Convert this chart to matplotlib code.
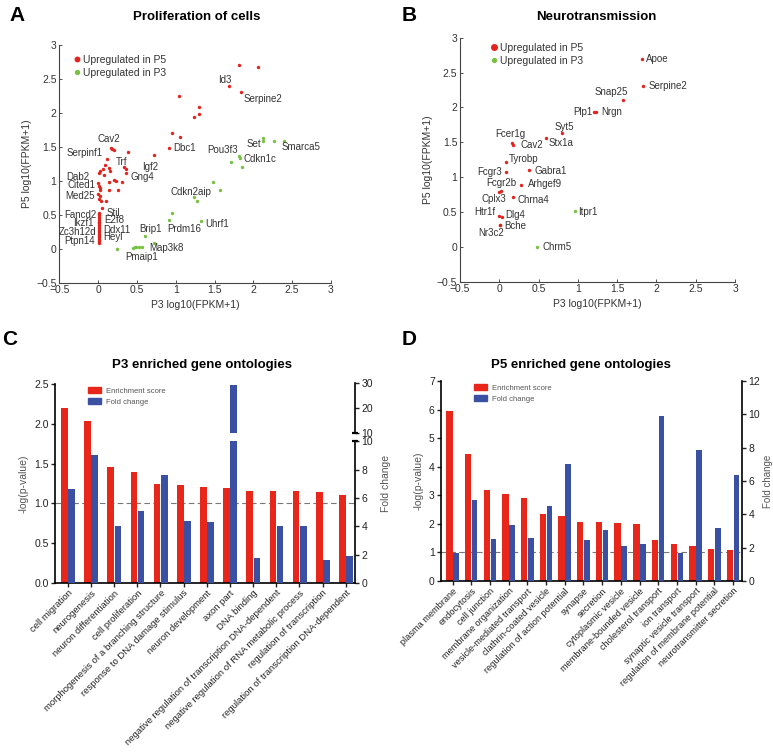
import numpy as np
import matplotlib.pyplot as plt
from matplotlib.lines import Line2D
from matplotlib.patches import Patch

plt.rcParams['font.family'] = ['Liberation Sans', 'DejaVu Sans']

RED = '#e3231c'
GREEN = '#78c143'
BAR_RED = '#e8261a'
BAR_BLUE = '#3a50a2'
TXT = '#333333'

# ---- panel A: proliferation of cells ----
a_red_genes = ['', '', 'Id3', 'Serpine2', '', '', '', '', '', '', 'Dbc1', '', '',
               'Cav2', '', '', 'Serpinf1', 'Trf', 'Igf2', 'Gng4', '', '', '', '',
               'Dab2', '', '', '', '', '', '', '', '', 'Cited1', '', '', '', 'Med25',
               '', '', '', '', '',
               'Stil', 'Fancd2', '', '', '', 'E2f8', '', '', 'Ikzf1', '', '', '',
               'Ddx11', '', 'Zc3h12d', '', '', '', 'Heyl', '', 'Ptpn14', '', '']
a_red_x = [1.81, 2.06, 1.68, 1.84, 1.04, 1.30, 1.30, 1.23, 0.95, 1.05, 0.91, 0.72, 0.38,
           0.16, 0.18, 0.21, 0.11, 0.34, 0.36, 0.36, 0.09, 0.14, 0.15, 0.06,
           0.01, 0.03, 0.07, 0.14, 0.20, 0.23, 0.31, 0.26, 0.14, 0.00, 0.01, 0.02, 0.02, 0.00,
           0.02, 0.01, 0.04, 0.10, 0.05,
           0.01, 0.01, 0.01, 0.01, 0.01, 0.01, 0.01, 0.01, 0.01, 0.01, 0.01, 0.01,
           0.01, 0.01, 0.01, 0.01, 0.01, 0.01, 0.01, 0.01, 0.01, 0.01, 0.01]
a_red_y = [2.70, 2.68, 2.40, 2.31, 2.25, 2.09, 1.99, 1.94, 1.70, 1.65, 1.49, 1.38, 1.42,
           1.49, 1.47, 1.45, 1.32, 1.20, 1.17, 1.12, 1.23, 1.19, 1.14, 1.17,
           1.12, 1.15, 1.08, 0.98, 1.01, 1.00, 0.98, 0.86, 0.87, 0.97, 0.93, 0.90, 0.86, 0.81,
           0.77, 0.73, 0.71, 0.71, 0.60,
           0.53, 0.51, 0.49, 0.47, 0.45, 0.42, 0.40, 0.39, 0.38, 0.35, 0.33, 0.31,
           0.28, 0.26, 0.24, 0.22, 0.20, 0.18, 0.17, 0.15, 0.12, 0.11, 0.09]

a_green_genes = ['', 'Set', '', 'Smarca5', 'Pou3f3', 'Cdkn1c', '', '', '', '', 'Cdkn2aip',
                 '', '', 'Prdm16', 'Uhrf1', 'Brip1', 'Map3k8', 'Pmaip1', '', '', '', '', '']
a_green_x = [2.13, 2.13, 2.26, 2.39, 1.82, 1.83, 1.71, 1.85, 1.48, 1.57, 1.23,
             1.28, 0.95, 0.91, 1.33, 0.60, 0.72, 0.49, 0.45, 0.47, 0.53, 0.56, 0.24]
a_green_y = [1.63, 1.58, 1.59, 1.58, 1.36, 1.34, 1.27, 1.20, 0.98, 0.87, 0.76,
             0.71, 0.52, 0.42, 0.41, 0.19, 0.09, 0.02, 0.01, 0.02, 0.03, 0.02, 0.00]

# label placement: gene -> (dx pt, dy pt, ha)
a_label_pos = {
    'Id3': (-2.6, 4.3, 'center'), 'Serpine2': (1.7, -5.0, 'left'), 'Dbc1': (3.1, -0.5, 'left'),
    'Cav2': (-1.0, 5.8, 'center'), 'Serpinf1': (-2.9, 4.1, 'right'), 'Trf': (-1.9, 3.8, 'center'),
    'Igf2': (11.3, 1.7, 'left'), 'Gng4': (2.9, -2.9, 'left'), 'Dab2': (-7.0, -3.4, 'right'),
    'Cited1': (-2.2, -1.9, 'right'), 'Med25': (-2.2, -1.7, 'right'), 'Fancd2': (-2.0, -0.7, 'right'),
    'Stil': (5.3, 0.0, 'left'), 'E2f8': (4.1, 0.0, 'left'), 'Ikzf1': (-3.8, 0.0, 'right'),
    'Ddx11': (3.4, 0.0, 'left'), 'Zc3h12d': (-2.0, 0.0, 'right'), 'Heyl': (3.4, 0.0, 'left'),
    'Ptpn14': (-3.0, 0.0, 'right'),
    'Set': (-1.7, -2.2, 'right'), 'Smarca5': (-1.2, -3.8, 'left'), 'Pou3f3': (-1.2, 4.6, 'right'),
    'Cdkn1c': (2.2, -1.2, 'left'), 'Cdkn2aip': (-2.2, 3.8, 'center'), 'Prdm16': (-1.0, -6.0, 'left'),
    'Uhrf1': (2.6, -1.9, 'left'), 'Brip1': (4.3, 4.6, 'center'), 'Map3k8': (-3.6, -4.1, 'left'),
    'Pmaip1': (4.1, -7.2, 'center'),
}

# ---- panel B: neurotransmission ----
b_red_genes = ['Apoe', 'Serpine2', 'Snap25', 'Plp1', 'Nrgn', 'Syt5', 'Stx1a', 'Fcer1g', 'Cav2',
               'Tyrobp', 'Fcgr3', 'Gabra1', 'Fcgr2b', 'Arhgef9', 'Cplx3', 'Chrna4', 'Htr1f',
               'Dlg4', 'Bche', 'Nr3c2']
b_red_x = [1.81, 1.83, 1.57, 1.20, 1.23, 0.80, 0.59, 0.16, 0.18, 0.09, 0.09, 0.38, 0.02,
           0.28, 0.00, 0.17, 0.00, 0.03, 0.01, 0.01]
b_red_y = [2.69, 2.30, 2.11, 1.93, 1.93, 1.63, 1.56, 1.49, 1.46, 1.22, 1.08, 1.10, 0.80,
           0.89, 0.78, 0.72, 0.44, 0.43, 0.32, 0.32]
b_green_genes = ['Itpr1', 'Chrm5']
b_green_x = [0.96, 0.48]
b_green_y = [0.52, 0.00]

b_label_pos = {
    'Apoe': (3.4, 0.0, 'left'), 'Serpine2': (3.8, 0.5, 'left'), 'Snap25': (-7.9, 5.8, 'center'),
    'Plp1': (-1.0, 0.0, 'right'), 'Nrgn': (4.1, 0.0, 'left'), 'Syt5': (1.9, 4.6, 'center'),
    'Stx1a': (1.9, -3.4, 'left'), 'Fcer1g': (-1.2, 6.2, 'center'), 'Cav2': (4.8, -0.2, 'left'),
    'Tyrobp': (1.9, 1.9, 'left'), 'Fcgr3': (-2.9, 0.0, 'right'), 'Gabra1': (3.6, -0.5, 'left'),
    'Fcgr2b': (0.0, 6.0, 'center'), 'Arhgef9': (4.6, 0.5, 'left'), 'Cplx3': (-4.1, -5.0, 'center'),
    'Chrna4': (3.4, -2.2, 'left'), 'Htr1f': (-2.6, 2.9, 'right'), 'Dlg4': (2.9, 1.4, 'left'),
    'Bche': (2.9, -1.4, 'left'), 'Nr3c2': (-6.7, -5.8, 'center'), 'Itpr1': (2.6, -1.0, 'left'),
    'Chrm5': (3.8, 0.0, 'left'),
}

# ---- panel C: P3 enriched gene ontologies ----
c_terms = ['cell migration', 'neurogenesis', 'neuron differentiation', 'cell proliferation',
           'morphogenesis of a branching structure', 'response to DNA damage stimulus',
           'neuron development', 'axon part', 'DNA binding',
           'negative regulation of transcription DNA-dependent',
           'negative regulation of RNA metabolic process', 'regulation of transcription',
           'regulation of transcription DNA-dependent']
c_enrich = [2.20, 2.03, 1.46, 1.39, 1.24, 1.23, 1.21, 1.19, 1.16, 1.16, 1.15, 1.14, 1.11]
c_fold = [6.6, 9.0, 4.0, 5.1, 7.6, 4.4, 4.3, 29.2, 1.8, 4.05, 4.05, 1.65, 1.9]

# ---- panel D: P5 enriched gene ontologies ----
d_terms = ['plasma membrane', 'endocytosis', 'cell junction', 'membrane organization',
           'vesicle-mediated transport', 'clathrin-coated vesicle',
           'regulation of action potential', 'synapse', 'secretion', 'cytoplasmic vesicle',
           'membrane-bounded vesicle', 'cholesterol transport', 'ion transport',
           'synaptic vesicle transport', 'regulation of membrane potential',
           'neurotransmitter secretion']
d_enrich = [5.94, 4.43, 3.20, 3.03, 2.92, 2.33, 2.26, 2.08, 2.05, 2.04, 1.98, 1.42, 1.31,
            1.24, 1.12, 1.07]
d_fold = [1.68, 4.84, 2.52, 3.34, 2.56, 4.50, 7.04, 2.48, 3.08, 2.08, 2.22, 9.92, 1.68,
          7.88, 3.18, 6.34]

fig = plt.figure(figsize=(7.73, 7.55), dpi=100)


def scatter_panel(ax, rx, ry, rg, gx, gy, gg, label_pos, red_size, legend_anchor):
    ax.scatter(rx, ry, s=6, color=RED, linewidths=0, zorder=3)
    ax.scatter(gx, gy, s=6, color=GREEN, linewidths=0, zorder=3)
    for xs, ys, gs in ((rx, ry, rg), (gx, gy, gg)):
        for x, y, g in zip(xs, ys, gs):
            if g and g in label_pos:
                dx, dy, ha = label_pos[g]
                ax.annotate(g, (x, y), xytext=(dx, dy), textcoords='offset points',
                            ha=ha, va='center', fontsize=7, color=TXT)
    ax.set_xlim(-0.5, 3)
    ax.set_ylim(-0.5, 3)
    ax.set_xticks(np.arange(-0.5, 3.01, 0.5))
    ax.set_yticks(np.arange(-0.5, 3.01, 0.5))
    ax.set_xticklabels(['\u22120.5', '0', '0.5', '1', '1.5', '2', '2.5', '3'])
    ax.set_yticklabels(['\u22120.5', '0', '0.5', '1', '1.5', '2', '2.5', '3'])
    for s in ('top', 'right'):
        ax.spines[s].set_visible(False)
    for s in ('left', 'bottom'):
        ax.spines[s].set_color('#444444')
        ax.spines[s].set_linewidth(0.8)
    ax.tick_params(direction='in', length=2.5, width=0.6, labelsize=7.5, colors=TXT, pad=2)
    ax.set_xlabel('P3 log10(FPKM+1)', fontsize=7.5, color=TXT, labelpad=3)
    ax.set_ylabel('P5 log10(FPKM+1)', fontsize=7.5, color=TXT, labelpad=3)
    handles = [Line2D([], [], ls='none', marker='o', ms=red_size, color=RED, label='Upregulated in P5'),
               Line2D([], [], ls='none', marker='o', ms=2.8, color=GREEN, label='Upregulated in P3')]
    leg = ax.legend(handles=handles, loc='upper left', bbox_to_anchor=legend_anchor, frameon=False,
                    fontsize=7.5, handletextpad=0.1, handlelength=1.0, labelspacing=0.25,
                    borderaxespad=0)
    for t in leg.get_texts():
        t.set_color(TXT)


axA = fig.add_axes([0.0767, 0.6256, 0.3515, 0.3148])
scatter_panel(axA, a_red_x, a_red_y, a_red_genes, a_green_x, a_green_y, a_green_genes,
              a_label_pos, 3.2, (0.03, 0.975))
axB = fig.add_axes([0.5951, 0.6269, 0.3558, 0.3232])
scatter_panel(axB, b_red_x, b_red_y, b_red_genes, b_green_x, b_green_y, b_green_genes,
              b_label_pos, 4.0, (0.09, 0.995))


def style_bar_axes(ax):
    ax.spines['top'].set_visible(False)
    for s in ('left', 'bottom', 'right'):
        ax.spines[s].set_linewidth(1.2)
    ax.tick_params(direction='out', length=3, width=1.0, labelsize=7.5, colors='#222222', pad=1.5)


def bar_legend(ax, anchor):
    handles = [Patch(color=BAR_RED, label='Enrichment score'),
               Patch(color=BAR_BLUE, label='Fold change')]
    leg = ax.legend(handles=handles, loc='upper left', bbox_to_anchor=anchor, frameon=False,
                    fontsize=5.5, handlelength=1.7, handleheight=0.8, labelspacing=0.5,
                    handletextpad=0.6, borderaxespad=0)
    for t in leg.get_texts():
        t.set_color('#555555')


# ---- panel C ----
posC = [0.0712, 0.2278, 0.3881, 0.2636]
axC = fig.add_axes(posC)
xc = np.arange(len(c_terms))
axC.bar(xc, c_enrich, width=-0.29, align='edge', color=BAR_RED, zorder=2)
axC.set_xlim(-0.55, len(c_terms) - 0.6)
axC.set_ylim(0, 2.5)
axC.set_yticks(np.arange(0, 2.51, 0.5))
axC.set_yticklabels(['0.0', '0.5', '1.0', '1.5', '2.0', '2.5'])
axC.axhline(1.0, color='#777777', ls=(0, (5, 3)), lw=0.8, zorder=1)
axC.set_ylabel('-log(p-value)', fontsize=7.5, color='#555555', labelpad=4)
style_bar_axes(axC)
axC.set_xticks(xc)
axC.set_xticklabels(c_terms, rotation=45, ha='right', rotation_mode='anchor')
axC.tick_params(axis='x', labelsize=6.8, pad=1)
axC.spines['right'].set_visible(False)

lower_top = 1.78   # left-axis level where fold change 10 sits
axC2 = axC.twinx()
axC2.set_ylim(0, 10 * 2.5 / lower_top)
axC2.bar(xc + 0.02, np.minimum(c_fold, 10), width=0.29, align='edge', color=BAR_BLUE, zorder=2)
axC2.set_yticks(np.arange(0, 10.1, 2))
axC2.spines['right'].set_bounds(0, 10)
style_bar_axes(axC2)
axC2.spines['left'].set_visible(False)
axC2.spines['bottom'].set_visible(False)
axC2.set_ylabel('Fold change', fontsize=7.5, color='#555555', labelpad=6)

up_lo, up_hi = 1.89, 2.51
axC3 = fig.add_axes([posC[0], posC[1] + posC[3] * up_lo / 2.5, posC[2], posC[3] * (up_hi - up_lo) / 2.5])
axC3.patch.set_visible(False)
axC3.set_xlim(axC.get_xlim())
axC3.set_ylim(10, 30)
big = [i for i, v in enumerate(c_fold) if v > 10]
axC3.bar(xc[big] + 0.02, np.array(c_fold)[big] - 10, bottom=10, width=0.29, align='edge',
         color=BAR_BLUE)
style_bar_axes(axC3)
for s in ('left', 'bottom', 'top'):
    axC3.spines[s].set_visible(False)
axC3.yaxis.tick_right()
axC3.set_xticks([])
axC3.set_yticks([10, 20, 30])
# break caps
for a, yv in ((axC2, 10), (axC3, 10)):
    a.plot([0.99, 1.01], [yv, yv], transform=a.get_yaxis_transform(), color='black',
           lw=1.6, clip_on=False, solid_capstyle='butt')
bar_legend(axC, (0.1, 1.0))

# ---- panel D ----
axD = fig.add_axes([0.5705, 0.2305, 0.3894, 0.2649])
xd = np.arange(len(d_terms))
axD.bar(xd, d_enrich, width=-0.34, align='edge', color=BAR_RED, zorder=2)
axD.set_xlim(-0.62, len(d_terms) - 0.52)
axD.set_ylim(0, 7)
axD.set_yticks(np.arange(0, 8, 1))
axD.axhline(1.0, color='#777777', ls=(0, (5, 3)), lw=0.8, zorder=1)
axD.set_ylabel('-log(p-value)', fontsize=7.5, color='#555555', labelpad=4)
style_bar_axes(axD)
axD.set_xticks(xd)
axD.set_xticklabels(d_terms, rotation=45, ha='right', rotation_mode='anchor')
axD.tick_params(axis='x', labelsize=6.6, pad=1)
axD.spines['right'].set_visible(False)
axD2 = axD.twinx()
axD2.bar(xd + 0.03, d_fold, width=0.3, align='edge', color=BAR_BLUE, zorder=2)
axD2.set_ylim(0, 12)
axD2.set_yticks(np.arange(0, 13, 2))
style_bar_axes(axD2)
axD2.spines['left'].set_visible(False)
axD2.spines['bottom'].set_visible(False)
axD2.set_ylabel('Fold change', fontsize=7, color='#555555', labelpad=2)
bar_legend(axD, (0.1, 1.0))

# titles and panel letters
fig.text(0.255, 0.978, 'Proliferation of cells', ha='center', va='center', fontsize=9.5,
         fontweight='bold')
fig.text(0.771, 0.978, 'Neurotransmission', ha='center', va='center', fontsize=9.5,
         fontweight='bold')
fig.text(0.261, 0.516, 'P3 enriched gene ontologies', ha='center', va='center', fontsize=9.5,
         fontweight='bold')
fig.text(0.7516, 0.516, 'P5 enriched gene ontologies', ha='center', va='center', fontsize=9.5,
         fontweight='bold')
for letter, x, y in (('A', 0.022, 0.98), ('B', 0.529, 0.98), ('C', 0.012, 0.55), ('D', 0.529, 0.55)):
    fig.text(x, y, letter, ha='center', va='center', fontsize=15, fontweight='bold')

fig.savefig('out.png', dpi=100)
